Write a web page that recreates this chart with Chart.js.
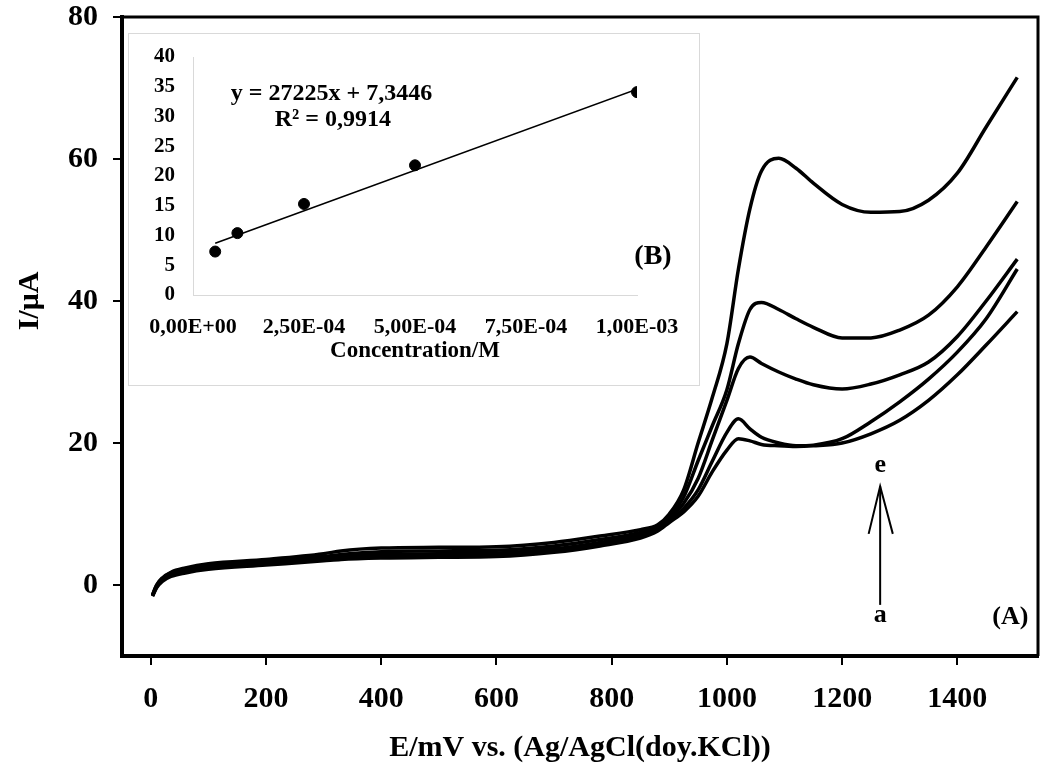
<!DOCTYPE html>
<html>
<head>
<meta charset="utf-8">
<title>Voltammograms</title>
<script src="https://cdn.jsdelivr.net/npm/chart.js@4.4.1/dist/chart.umd.min.js"></script>
<style>
  html, body { margin: 0; padding: 0; background: #fff; }
  #wrap { position: relative; width: 1040px; height: 776px; overflow: hidden; }
  #mainChart { position: absolute; left: 0; top: 0; }
  #insetBox {
    position: absolute; left: 128px; top: 33px; width: 572px; height: 353px;
    background: #fff; border: 1px solid #d9d9d9; box-sizing: border-box;
  }
  #insetChart { position: absolute; left: 0; top: 0; }
</style>
</head>
<body>
<div id="wrap">
  <canvas id="mainChart" width="1040" height="776"></canvas>
  <div id="insetBox"><canvas id="insetChart" width="570" height="351"></canvas></div>
</div>
<script>
// main plot: potential (mV) and current (uA) of curves a..e
const potential = [3, 10, 20, 35, 60, 100, 200, 300, 330, 400, 500, 600, 700, 780, 850, 880,
  900, 925, 950, 975, 1000, 1020, 1040, 1060, 1090, 1120, 1150, 1200, 1250, 1300, 1350, 1400, 1450, 1504];
const currentA = [-1.6, -0.4, 0.5, 1.2, 1.7, 2.2, 2.8, 3.4, 3.6, 3.8, 3.9, 4.0, 4.6, 5.5, 6.6, 7.6,
  8.8, 10.3, 12.5, 16.0, 19.0, 20.6, 20.3, 19.8, 19.6, 19.5, 19.6, 20.0, 21.3, 23.2, 26.0, 29.6, 33.8, 38.5];
const currentB = [-1.5, -0.3, 0.7, 1.4, 1.9, 2.4, 3.0, 3.6, 3.8, 4.0, 4.1, 4.2, 4.8, 5.7, 6.8, 7.8,
  9.0, 10.8, 13.4, 17.5, 21.5, 23.4, 22.0, 20.8, 20.0, 19.6, 19.7, 20.6, 23.0, 25.8, 29.0, 32.8, 37.5, 44.5];
const currentC = [-1.5, -0.2, 0.8, 1.5, 2.1, 2.6, 3.2, 3.8, 4.0, 4.3, 4.4, 4.5, 5.1, 6.0, 7.1, 8.0,
  9.3, 11.5, 15.0, 20.5, 26.0, 30.5, 32.1, 31.2, 30.0, 29.0, 28.2, 27.6, 28.3, 29.6, 31.4, 35.0, 40.0, 45.9];
const currentD = [-1.4, -0.1, 0.9, 1.7, 2.3, 2.8, 3.4, 4.0, 4.3, 4.7, 4.8, 4.9, 5.5, 6.4, 7.4, 8.2,
  9.6, 12.4, 17.5, 22.5, 27.5, 34.0, 38.8, 39.8, 38.8, 37.5, 36.3, 34.8, 34.8, 35.9, 38.0, 42.0, 47.6, 54.0];
const currentE = [-1.4, 0.0, 1.0, 1.8, 2.4, 3.0, 3.6, 4.4, 4.8, 5.2, 5.3, 5.4, 6.0, 6.9, 7.8, 8.5,
  10.0, 13.4, 20.0, 26.5, 34.0, 44.5, 53.0, 58.3, 60.1, 58.7, 56.6, 53.6, 52.5, 52.6, 54.2, 58.0, 64.5, 71.5];
const mainXTicks = [0, 200, 400, 600, 800, 1000, 1200, 1400];
const mainYTicks = [0, 20, 40, 60, 80];

// arrow a -> e (data units)
const arrowShaftE = [1266, 1266];
const arrowShaftI = [-2.8, 13.9];
const arrowHeadE = [1246, 1266, 1288];
const arrowHeadI = [7.2, 13.9, 7.2];

// inset: calibration plot
const concentration = [5e-5, 1e-4, 2.5e-4, 5e-4, 1e-3];
const peakCurrent = [7.3, 10.4, 15.3, 21.8, 34.1];
const fitConc = [5e-5, 1e-3];
const fitCurrent = [8.7, 34.6];
const insetXTicks = [0, 2.5e-4, 5e-4, 7.5e-4, 1e-3];
const insetXLabels = ["0,00E+00", "2,50E-04", "5,00E-04", "7,50E-04", "1,00E-03"];
const insetYTicks = [0, 5, 10, 15, 20, 25, 30, 35, 40];

const FONT = "'Liberation Serif', 'Times New Roman', serif";

function pts(xs, ys) {
  return xs.map((x, i) => ({ x: x, y: ys[i] }));
}

function curve(ys) {
  return {
    data: pts(potential, ys),
    borderColor: "#000",
    borderWidth: 3.5,
    pointRadius: 0,
    fill: false,
    cubicInterpolationMode: "monotone",
  };
}

// frame, y title and free text on the main plot
const mainDecor = {
  id: "mainDecor",
  afterDraw(chart) {
    const { ctx, chartArea: a, scales } = chart;
    ctx.save();
    ctx.strokeStyle = "#000";
    ctx.lineWidth = 3;
    ctx.beginPath();
    ctx.moveTo(a.left, a.top);
    ctx.lineTo(a.right, a.top);
    ctx.lineTo(a.right, a.bottom);
    ctx.stroke();
    ctx.fillStyle = "#000";
    ctx.textAlign = "center";
    ctx.textBaseline = "middle";
    ctx.font = "bold 26px " + FONT;
    ctx.fillText("e", scales.x.getPixelForValue(1266), scales.y.getPixelForValue(16.8));
    ctx.fillText("a", scales.x.getPixelForValue(1266), scales.y.getPixelForValue(-4.3));
    ctx.fillText("(A)", scales.x.getPixelForValue(1492), scales.y.getPixelForValue(-4.6));
    ctx.translate(30, scales.y.getPixelForValue(40));
    ctx.rotate(-Math.PI / 2);
    ctx.font = "bold 30px " + FONT;
    ctx.fillText("I/μA", 0, 0);
    ctx.restore();
  },
};

new Chart(document.getElementById("mainChart"), {
  type: "line",
  data: {
    datasets: [
      curve(currentA), curve(currentB), curve(currentC), curve(currentD), curve(currentE),
      { data: pts(arrowShaftE, arrowShaftI), borderColor: "#000", borderWidth: 2, pointRadius: 0, tension: 0 },
      { data: pts(arrowHeadE, arrowHeadI), borderColor: "#000", borderWidth: 2, pointRadius: 0, tension: 0 },
    ],
  },
  options: {
    responsive: false,
    animation: false,
    layout: { padding: { top: 17, right: 2, left: 0, bottom: 0 } },
    plugins: { legend: { display: false }, tooltip: { enabled: false } },
    scales: {
      x: {
        type: "linear",
        min: -50,
        max: 1540,
        afterBuildTicks: (s) => { s.ticks = mainXTicks.map((v) => ({ value: v })); },
        afterFit: (s) => { s.height = 120; s.paddingLeft = 0; s.paddingRight = 0; },
        grid: { drawOnChartArea: false, drawTicks: true, tickLength: 9, color: "#000", lineWidth: 2 },
        border: { color: "#000", width: 4 },
        ticks: {
          color: "#000",
          padding: 16,
          maxRotation: 0,
          font: { family: FONT, size: 30, weight: "bold" },
          callback: (v) => String(v),
        },
        title: {
          display: true,
          text: "E/mV vs. (Ag/AgCl(doy.KCl))",
          color: "#000",
          padding: { top: 0, bottom: 10 },
          font: { family: FONT, size: 30, weight: "bold" },
        },
      },
      y: {
        min: -10,
        max: 80,
        afterBuildTicks: (s) => { s.ticks = mainYTicks.map((v) => ({ value: v })); },
        afterFit: (s) => { s.width = 122; s.paddingTop = 0; s.paddingBottom = 0; },
        grid: { drawOnChartArea: false, drawTicks: true, tickLength: 9, color: "#000", lineWidth: 2 },
        border: { color: "#000", width: 4 },
        ticks: { color: "#000", padding: 15, font: { family: FONT, size: 30, weight: "bold" } },
      },
    },
  },
  plugins: [mainDecor],
});

// equation, R² and (B) on the inset
const insetDecor = {
  id: "insetDecor",
  afterDraw(chart) {
    const { ctx, scales } = chart;
    const x = scales.x, y = scales.y;
    ctx.save();
    ctx.fillStyle = "#000";
    ctx.textAlign = "center";
    ctx.textBaseline = "middle";
    ctx.font = "bold 24px " + FONT;
    ctx.fillText("y = 27225x + 7,3446", x.getPixelForValue(3.12e-4), y.getPixelForValue(33.8));
    ctx.fillText("R² = 0,9914", x.getPixelForValue(3.15e-4), y.getPixelForValue(29.4));
    ctx.font = "bold 28px " + FONT;
    ctx.fillText("(B)", x.getPixelForValue(1.036e-3), y.getPixelForValue(6.4));
    ctx.restore();
  },
};

new Chart(document.getElementById("insetChart"), {
  type: "scatter",
  data: {
    datasets: [
      {
        type: "line",
        data: pts(fitConc, fitCurrent),
        borderColor: "#000",
        borderWidth: 1.6,
        pointRadius: 0,
      },
      {
        data: pts(concentration, peakCurrent),
        backgroundColor: "#000",
        borderColor: "#000",
        pointRadius: 5.5,
      },
    ],
  },
  options: {
    responsive: false,
    animation: false,
    layout: { padding: { top: 23, right: 62, left: 0, bottom: 0 } },
    plugins: { legend: { display: false }, tooltip: { enabled: false } },
    scales: {
      x: {
        type: "linear",
        min: 0,
        max: 1e-3,
        afterBuildTicks: (s) => { s.ticks = insetXTicks.map((v) => ({ value: v })); },
        afterFit: (s) => { s.height = 90; s.paddingLeft = 0; s.paddingRight = 0; },
        grid: { display: false },
        border: { color: "#d9d9d9", width: 1 },
        ticks: {
          color: "#000",
          padding: 11,
          maxRotation: 0,
          autoSkip: false,
          font: { family: FONT, size: 22, weight: "bold" },
          callback: (v, i) => insetXLabels[i],
        },
        title: {
          display: true,
          text: "Concentration/M",
          color: "#000",
          padding: { top: 0, bottom: 20 },
          font: { family: FONT, size: 23, weight: "bold" },
        },
      },
      y: {
        min: 0,
        max: 40,
        afterBuildTicks: (s) => { s.ticks = insetYTicks.map((v) => ({ value: v })); },
        afterFit: (s) => { s.width = 64; s.paddingTop = 0; s.paddingBottom = 0; },
        grid: { display: false },
        border: { color: "#d9d9d9", width: 1 },
        ticks: { color: "#000", padding: 10, font: { family: FONT, size: 21, weight: "bold" } },
      },
    },
  },
  plugins: [insetDecor],
});
</script>
</body>
</html>
